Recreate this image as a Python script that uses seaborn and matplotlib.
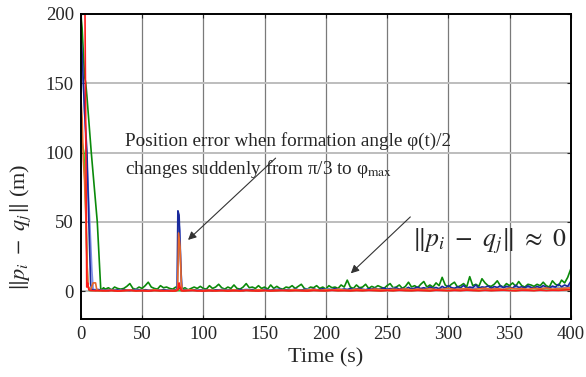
import numpy as np
import pandas as pd
import seaborn as sns
import matplotlib.pyplot as plt

# initial transients (time s, distance m)
green_t0 = [0, 1, 3, 4, 5, 8.5, 13.4, 16.2, 17, 18.5]
green_v0 = [200, 190, 155, 150, 140, 100, 50, 2, 1, 2.5]
navy_t0 = [0, 1, 3, 5, 6.5, 8, 9, 12, 15, 17.5]
navy_v0 = [185, 172, 130, 100, 50, 5, 1, 0.7, 1, 0.6]
lblue_t0 = [0, 2, 4, 7, 9, 10, 11, 14, 17]
lblue_v0 = [165, 150, 110, 55, 15, 2, 1, 1.5, 0.7]
red_t0 = [0, 3.3, 4.8, 5.5, 6.5, 8, 12, 16]
red_v0 = [330, 210, 3, 6, 1, 0.5, 0.3, 0.4]
orange_t0 = [0, 1, 2, 3, 4, 5, 6, 8, 10, 12, 13, 15]
orange_v0 = [140, 125, 95, 80, 55, 20, 3, 1, 6, 6, 1, 0.5]
lime_t0 = [0, 1.5, 2.5, 4, 5.5, 7, 12, 16]
lime_v0 = [112, 105, 100, 60, 5, 0.5, 0.6, 0.4]

# steady-state error, t = 20 ... 400 s
green_noise = [
    1.5, 2.5, 1, 3, 2, 1.5, 2, 3.5, 5.5, 2,
    1.5, 3, 2, 4, 6.5, 3, 2, 1.5, 4, 2.5,
    3, 2, 1.5, 3, 2, 1.5, 2.5, 1, 2, 3,
    2, 3.5, 2, 1.5, 4, 2, 3, 5, 2.5, 1.5,
    3, 2, 4.5, 2, 1.5, 3, 5.5, 2.5, 3, 2,
    4, 2, 3, 1.5, 4.5, 2, 3.5, 2, 1.5, 3,
    2.5, 4, 2, 3.5, 5, 2, 1.5, 3, 2.5, 4,
    2, 3, 1.5, 4, 2.5, 3, 2, 4.5, 3, 8,
    3, 2, 4.5, 2.5, 3, 5, 2, 3.5, 2.5, 4,
    3, 2, 4, 5.5, 2.5, 3, 4.5, 2, 3.5, 6.5,
    3, 4, 2.5, 5, 7, 3, 4.5, 3, 6, 4,
    10, 4.5, 3, 5, 6.5, 3, 4, 5.5, 3, 10.5,
    4, 5, 3.5, 9, 6, 4, 3.5, 5, 7.5, 4,
    3, 5.5, 4, 6, 3.5, 7, 4, 3, 5, 4.5,
    3.5, 5, 4, 6.5, 4, 3, 7.5, 5, 4, 8,
    6, 10, 16]
navy_noise = [
    0.8, 0.5, 1, 0.6, 0.9, 0.4, 1.2, 0.7, 0.5, 1,
    0.6, 0.9, 0.4, 1.1, 0.7, 0.5, 1, 0.8, 0.6, 1.2,
    0.7, 0.5, 1, 0.6, 0.8, 0.5, 0.9, 0.7, 0.6, 1,
    0.5, 0.8, 0.6, 1.2, 0.7, 0.5, 1, 0.8, 0.6, 0.9,
    0.7, 1.1, 0.6, 0.8, 1.3, 0.5, 0.9, 0.7, 1.2, 0.6,
    1, 0.7, 1.4, 0.8, 0.6, 1.2, 0.9, 1.5, 0.7, 1,
    1.3, 0.8, 1.6, 1, 0.7, 1.4, 1.1, 0.8, 1.7, 1,
    1.2, 1.8, 0.9, 1.4, 1.1, 2, 1.3, 0.9, 1.6, 1.2,
    1.9, 1.1, 1.5, 2.2, 1.3, 1, 1.8, 1.4, 2.1, 1.2,
    1.6, 2.4, 1.3, 1.9, 1.5, 2.6, 1.4, 2, 1.7, 2.8,
    1.5, 2.2, 3, 1.8, 2.5, 1.6, 3.2, 2, 2.7, 1.8,
    3.5, 2.2, 4, 2.6, 1.9, 3.3, 2.4, 4.2, 2.1, 3,
    2.6, 4.5, 2.3, 3.1, 2.8, 3.8, 2.2, 3.4, 2.7, 4,
    2.5, 3.6, 2.9, 2.2, 4.3, 2.7, 3.2, 2.4, 3.9, 2.8,
    2.3, 3.5, 2.6, 4.1, 2.9, 2.4, 3.7, 3, 5, 3.2,
    4.5, 3.5, 7]
lblue_noise = [
    0.8, 1.2, 0.6, 1, 0.7, 1.3, 0.9, 0.5, 1.1, 0.8,
    0.6, 1, 0.7, 1.2, 0.8, 0.5, 1.1, 0.9, 0.6, 1.3,
    0.8, 1, 0.7, 1.4, 0.9, 0.6, 1.2, 0.8, 1.5, 1,
    0.9, 1.3, 0.7, 1.6, 1.1, 0.8, 1.4, 1, 1.7, 1.2,
    1, 1.8, 1.3, 0.9, 2, 1.4, 1.1, 2.2, 1.5, 1.2,
    1.9, 1.4, 2.4, 1.6, 1.3, 2.1, 1.7, 2.5, 1.5, 2,
    1.8, 2.6, 1.6, 2.2, 1.9, 2.8, 2, 2.4, 1.7, 2.9,
    2.1, 2.5, 1.9, 3, 2.3, 2.6, 4]
orange_noise = [
    0.5, 0.8, 0.3, 0.6, 0.9, 0.4, 0.7, 0.5, 1, 0.6,
    0.4, 0.8, 0.5, 0.7, 1, 0.4, 0.6, 0.9, 0.5, 0.7,
    0.6, 1, 0.4, 0.8, 0.5, 1.1, 0.7, 0.5, 0.9, 0.6,
    0.8, 1.2, 0.6, 0.9, 1.3, 0.7, 1, 0.8, 1.4, 0.9,
    0.7, 1.5, 1, 0.8, 1.6, 1.1, 0.9, 1.4, 1.2, 1.7,
    1, 1.5, 1.2, 1.8, 1.1, 1.4, 2, 1.3, 1.6, 1.9,
    1.2, 1.7, 2.1, 1.4, 1.8, 1.3, 2.2, 1.6, 1.9, 1.4,
    2, 1.7, 2.3, 1.5, 1.8, 2.1, 2.5]
red_noise = [
    0.2, 0.4, 0.1, 0.3, 0.5, 0.2, 0.3, 0.1, 0.4, 0.2,
    0.3, 0.1, 0.4, 0.2, 0.5, 0.3, 0.1, 0.3, 0.2, 0.4,
    0.1, 0.3, 0.2, 0.5, 0.3, 0.1, 0.4, 0.2, 0.3, 0.5,
    0.2, 0.4, 0.3, 0.1, 0.5, 0.3, 0.2, 0.6, 0.3, 0.4,
    0.2, 0.5, 0.3, 0.6, 0.4, 0.2, 0.5, 0.3, 0.7, 0.4,
    0.3, 0.6, 0.4, 0.2, 0.7, 0.5, 0.3, 0.6, 0.4, 0.8,
    0.5, 0.3, 0.7, 0.4, 0.6, 0.8, 0.5, 0.3, 0.7, 0.6,
    0.4, 0.8, 0.5, 0.7, 0.6, 0.9, 1.2]
lime_noise = [
    0.4, 0.6, 0.3, 0.5, 0.7, 0.4, 0.5, 0.3, 0.6, 0.4,
    0.5, 0.3, 0.6, 0.4, 0.7, 0.5, 0.3, 0.5, 0.4, 0.6,
    0.3, 0.5, 0.4, 0.7, 0.5, 0.3, 0.6, 0.4, 0.5, 0.7,
    0.4, 0.6, 0.5, 0.3, 0.7, 0.5, 0.4, 0.8, 0.5, 0.6,
    0.4, 0.7, 0.5, 0.8, 0.6, 0.4, 0.7, 0.5, 0.9, 0.6,
    0.5, 0.8, 0.6, 0.4, 0.9, 0.7, 0.5, 0.8, 0.6, 1,
    0.7, 0.5, 0.9, 0.6, 0.8, 1, 0.7, 0.5, 0.9, 0.8,
    0.6, 1, 0.7, 0.9, 0.8, 1.1, 1.3]

# error peak when the formation angle switches at t = 80 s
navy_spike_t = [77.5, 78.6, 79.2, 80.2, 81.4, 82.4, 83.5]
navy_spike_v = [0.8, 2, 58, 55, 22, 1.5, 0.7]
lblue_spike_t = [77.5, 78.8, 79.6, 80.8, 81.8, 82.6, 83.5]
lblue_spike_v = [0.9, 3, 52, 44, 14, 1, 0.8]
orange_spike_t = [77.5, 79, 79.8, 81, 82, 82.8, 83.5]
orange_spike_v = [0.5, 2, 42, 32, 6, 0.6, 0.5]
red_spike_t = [77.5, 79.5, 80.2, 81, 82, 83.5]
red_spike_v = [0.2, 1, 6, 3, 0.3, 0.2]


def build(name, t0, v0, noise, spike_t=None, spike_v=None):
    tn = np.linspace(20, 400, len(noise))
    vn = np.array(noise, dtype=float)
    if spike_t is not None:
        keep = (tn < spike_t[0]) | (tn > spike_t[-1])
        tn, vn = tn[keep], vn[keep]
        tn = np.concatenate([tn, spike_t])
        vn = np.concatenate([vn, spike_v])
    t = np.concatenate([t0, tn])
    v = np.concatenate([v0, vn])
    order = np.argsort(t, kind="stable")
    return pd.DataFrame({"time": t[order], "dist": v[order], "agent": name})


df = pd.concat([
    build("green", green_t0, green_v0, green_noise),
    build("lime", lime_t0, lime_v0, lime_noise),
    build("lblue", lblue_t0, lblue_v0, lblue_noise, lblue_spike_t, lblue_spike_v),
    build("navy", navy_t0, navy_v0, navy_noise, navy_spike_t, navy_spike_v),
    build("orange", orange_t0, orange_v0, orange_noise, orange_spike_t, orange_spike_v),
    build("red", red_t0, red_v0, red_noise, red_spike_t, red_spike_v),
], ignore_index=True)

palette = {"green": "#0a8a0a", "lime": "#22e022", "lblue": "#7f8fe6",
           "navy": "#1a2a9c", "orange": "#e8692a", "red": "#ff1a1a"}

sns.set_style("ticks")
plt.rcParams["font.family"] = ["Liberation Serif", "DejaVu Serif"]
plt.rcParams["mathtext.fontset"] = "stix"

fig, ax = plt.subplots(figsize=(5.86, 3.77), dpi=100)
fig.subplots_adjust(left=0.138, right=0.974, top=0.963, bottom=0.154)

ax.set_xticks(np.arange(0, 401, 50))
ax.set_yticks([0, 50, 100, 150, 200])
for x in np.arange(50, 400, 50):
    ax.axvline(x, color="#7a7a7a", lw=0.9, zorder=0)
for y in [0, 50, 100, 150]:
    ax.axhline(y, color="#bdbdbd", lw=1.4, zorder=0)

sns.lineplot(data=df, x="time", y="dist", hue="agent", palette=palette,
             hue_order=list(palette.keys()), estimator=None, lw=1.2,
             legend=False, ax=ax)

ax.set_xlim(0, 400)
ax.set_ylim(-20, 200)
for s in ax.spines.values():
    s.set_visible(True)
    s.set_linewidth(1.4)
    s.set_color("black")
ax.tick_params(direction="in", length=3, top=True, right=True,
               labelsize=13.5, pad=5)
ax.set_xlabel("Time (s)", fontsize=16, labelpad=4)
ax.set_ylabel(r"$\Vert p_i\ -\ q_j \Vert$ (m)", fontsize=16)
ax.yaxis.set_label_coords(-0.098, 0.30)

ax.text(35.7, 97.8,
        "Position error when formation angle φ(t)/2\n"
        r"changes suddenly from π/3 to φ$_{\mathrm{max}}$",
        fontsize=13.8, ha="left", va="center", linespacing=1.5)
ax.annotate("", xy=(87.5, 37), xytext=(159, 96),
            arrowprops=dict(arrowstyle="-|>", color="#333333", lw=0.8,
                            mutation_scale=12, shrinkA=0, shrinkB=0))
ax.text(270.7, 35.7, r"$\Vert p_i\ -\ q_j \Vert\ \approx\ 0$", fontsize=18.5,
        ha="left", va="center")
ax.annotate("", xy=(220.4, 12.9), xytext=(269, 53.6),
            arrowprops=dict(arrowstyle="-|>", color="#333333", lw=0.8,
                            mutation_scale=12, shrinkA=0, shrinkB=0))

fig.savefig("out.png", dpi=100)
